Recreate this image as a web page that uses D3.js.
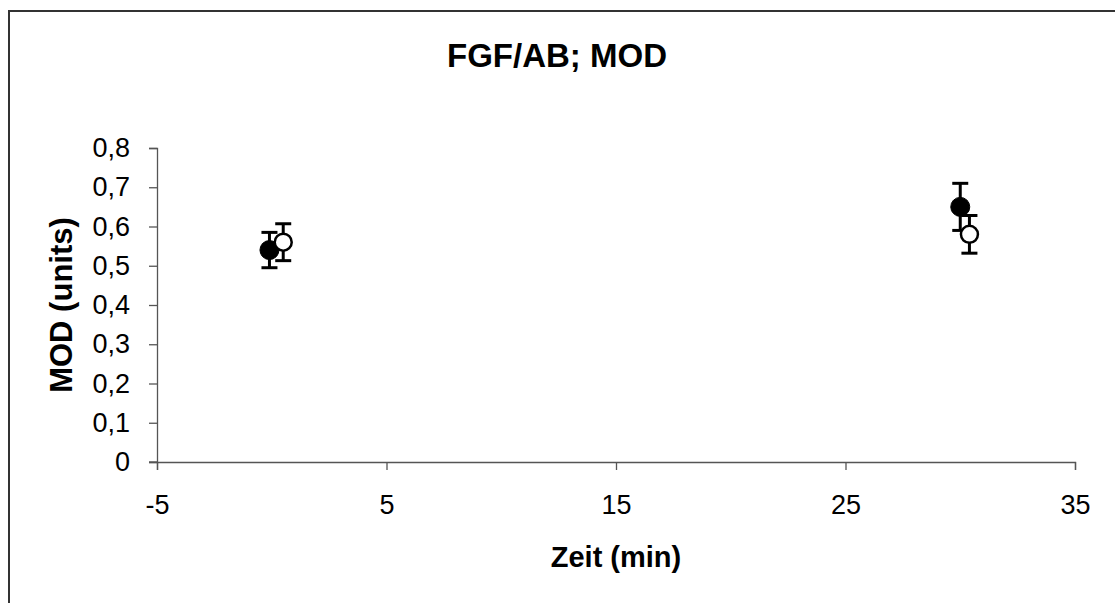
<!DOCTYPE html>
<html>
<head>
<meta charset="utf-8">
<script src="https://cdn.jsdelivr.net/npm/d3@7"></script>
<style>
  html, body { margin: 0; padding: 0; background: #fff; }
  svg { display: block; }
  text { font-family: Arial, "Liberation Sans", sans-serif; fill: #000; }
</style>
</head>
<body>
<svg id="chart" width="1115" height="603"></svg>
<script>
// ---- data ----
const title = "FGF/AB; MOD";
const xLabel = "Zeit (min)";
const yLabel = "MOD (units)";
const xTicks = [-5, 5, 15, 25, 35];
const yTicks = [0, 0.1, 0.2, 0.3, 0.4, 0.5, 0.6, 0.7, 0.8];
// filled series
const filledX = [-0.1, 30];
const filledY = [0.54, 0.65];
const filledErr = [0.045, 0.06];
// open series
const openX = [0.5, 30.4];
const openY = [0.56, 0.58];
const openErr = [0.047, 0.048];

// ---- drawing ----
const svg = d3.select("#chart");
const W = 1115, H = 603;
const plot = { left: 157, right: 1075, top: 148, bottom: 462 };

// outer frame
svg.append("rect")
  .attr("x", 9).attr("y", 11)
  .attr("width", W + 20).attr("height", H + 20)
  .attr("fill", "none").attr("stroke", "#333").attr("stroke-width", 2);

const x = d3.scaleLinear().domain([-5, 35]).range([plot.left, plot.right]);
const y = d3.scaleLinear().domain([0, 0.8]).range([plot.bottom, plot.top]);

// y axis
const yAxis = svg.append("g")
  .attr("transform", `translate(${plot.left},0)`)
  .call(d3.axisLeft(y).tickValues(yTicks).tickSize(8).tickPadding(19)
    .tickFormat(d => d === 0 ? "0" : d.toFixed(1).replace(".", ",")));
// x axis
const xAxis = svg.append("g")
  .attr("transform", `translate(0,${plot.bottom})`)
  .call(d3.axisBottom(x).tickValues(xTicks).tickSize(8).tickPadding(25)
    .tickFormat(d => String(d)));

[yAxis, xAxis].forEach(g => {
  g.attr("font-size", null).attr("font-family", null);
  g.select(".domain").attr("stroke", "#555").attr("stroke-width", 1.3);
  g.selectAll(".tick line").attr("stroke", "#555").attr("stroke-width", 1.3);
  g.selectAll(".tick text").style("font-size", "27px").attr("fill", "#000");
});
// short extension of x-axis line left of y axis (Excel style)
svg.append("line")
  .attr("x1", plot.left - 8).attr("x2", plot.left)
  .attr("y1", plot.bottom).attr("y2", plot.bottom)
  .attr("stroke", "#555").attr("stroke-width", 1.3);

// titles
svg.append("text").text(title)
  .attr("x", 557).attr("y", 67)
  .attr("text-anchor", "middle")
  .style("font-size", "33px").style("font-weight", "bold");

svg.append("text").text(xLabel)
  .attr("x", (plot.left + plot.right) / 2).attr("y", 567)
  .attr("text-anchor", "middle")
  .style("font-size", "29px").style("font-weight", "bold");

svg.append("text").text(yLabel)
  .attr("transform", `translate(72,${(plot.top + plot.bottom) / 2}) rotate(-90)`)
  .attr("text-anchor", "middle")
  .style("font-size", "31px").style("font-weight", "bold");

// series drawing
function drawSeries(xs, ys, es, filled) {
  const data = xs.map((v, i) => ({ x: v, y: ys[i], e: es[i] }));
  const g = svg.append("g");
  const cap = 8;
  const eb = g.selectAll("g.eb").data(data).enter().append("g");
  eb.append("line")
    .attr("x1", d => x(d.x)).attr("x2", d => x(d.x))
    .attr("y1", d => y(d.y + d.e)).attr("y2", d => y(d.y - d.e))
    .attr("stroke", "#000").attr("stroke-width", 3);
  eb.append("line")
    .attr("x1", d => x(d.x) - cap).attr("x2", d => x(d.x) + cap)
    .attr("y1", d => y(d.y + d.e)).attr("y2", d => y(d.y + d.e))
    .attr("stroke", "#000").attr("stroke-width", 3);
  eb.append("line")
    .attr("x1", d => x(d.x) - cap).attr("x2", d => x(d.x) + cap)
    .attr("y1", d => y(d.y - d.e)).attr("y2", d => y(d.y - d.e))
    .attr("stroke", "#000").attr("stroke-width", 3);
  g.selectAll("circle").data(data).enter().append("circle")
    .attr("cx", d => x(d.x)).attr("cy", d => y(d.y))
    .attr("r", filled ? 9.5 : 8.5)
    .attr("fill", filled ? "#000" : "#fff")
    .attr("stroke", "#000").attr("stroke-width", filled ? 1 : 2.5);
}
drawSeries(filledX, filledY, filledErr, true);
drawSeries(openX, openY, openErr, false);
</script>
</body>
</html>
